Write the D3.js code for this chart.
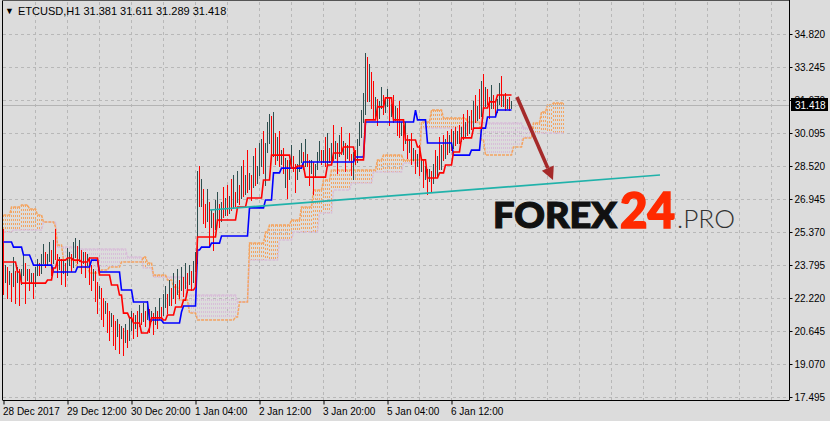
<!DOCTYPE html>
<html><head><meta charset="utf-8">
<script src="https://cdn.jsdelivr.net/npm/d3@7"></script>
<style>
html,body{margin:0;padding:0;background:#dcdcdc;}
svg{display:block;}
</style></head><body>
<svg id="c" width="830" height="421"></svg>
<script>
// ---------------- DATA ----------------
const symbolTitle = "ETCUSD,H1";
const lastQuote = [31.381, 31.611, 31.289, 31.418];
const yTickValues = [34.820, 33.245, 31.670, 30.095, 28.520, 26.945, 25.370, 23.795, 22.220, 20.645, 19.070, 17.495];
const xTickBars = [0, 32, 64, 96, 128, 160, 192, 224];
const xTickLabels = ["28 Dec 2017","29 Dec 12:00","30 Dec 20:00","1 Jan 04:00","2 Jan 12:00","3 Jan 20:00","5 Jan 04:00","6 Jan 12:00"];
const firstOpen = 24.9;
const closes = [
23.2,23.6,23.0,23.3,22.9,23.4,23.1,23.5,23.0,23.4,
23.8,23.2,23.5,23.1,23.3,22.9,23.4,23.8,23.5,24.0,
24.3,23.9,24.1,24.4,24.0,24.6,24.2,23.7,24.0,23.5,
23.8,23.4,23.9,24.2,23.8,24.3,24.6,24.1,24.4,24.0,
24.3,23.9,24.1,23.6,23.2,23.4,22.8,22.3,22.6,22.0,
21.6,21.9,21.3,21.0,21.3,20.8,20.5,20.9,20.4,20.7,
20.2,20.6,20.3,20.8,21.2,20.9,21.3,21.0,21.4,21.2,
21.5,21.3,21.6,21.2,21.4,21.1,21.5,21.3,21.7,21.5,
21.9,22.3,22.0,22.6,22.3,22.8,22.5,23.0,22.7,23.1,
22.8,23.3,23.0,23.4,23.1,23.6,23.9,27.4,26.8,27.2,
26.4,26.0,26.6,25.8,26.2,25.6,26.1,26.5,26.0,26.6,
26.3,26.8,26.4,26.9,26.6,27.2,26.9,27.5,27.1,27.7,
27.3,27.9,27.5,28.0,27.6,28.2,27.8,28.3,28.6,29.0,
28.5,29.4,29.8,30.3,29.2,29.9,29.0,29.5,28.8,29.1,
28.4,28.7,28.1,28.6,28.9,28.5,28.0,28.4,28.8,29.1,
28.6,29.0,28.7,28.3,28.6,28.1,28.5,28.9,29.2,28.8,
29.1,28.7,29.3,28.9,29.4,29.0,29.5,29.1,29.6,29.2,
29.5,29.0,29.4,29.0,28.6,29.1,28.8,29.6,30.0,30.7,
31.2,32.9,31.8,32.5,31.5,31.0,31.6,30.9,31.4,31.8,
31.2,31.5,31.7,31.1,31.3,30.8,31.2,30.6,30.1,30.4,
29.7,29.9,29.3,29.6,28.9,29.2,28.6,28.9,28.4,28.7,
28.0,28.3,27.9,28.2,27.8,28.4,28.1,28.8,28.5,29.3,
29.0,29.6,29.3,29.8,29.5,30.0,29.7,30.1,29.8,30.3,
30.0,30.5,30.2,30.8,30.5,31.1,30.8,31.3,31.0,31.8,
31.5,32.1,31.7,31.4,31.8,31.5,31.2,31.6,31.9,31.5,
31.8,31.4,31.6,31.381,31.418];
const highs = [
25.5,23.8,23.7,23.5,23.4,24.2,23.5,23.7,23.6,23.6,
24.3,23.9,23.6,23.6,23.4,23.4,23.7,24.1,23.9,24.3,
24.8,24.4,24.3,24.9,24.5,25.0,25.5,24.3,24.2,24.1,
24.0,23.9,24.6,24.4,24.3,24.9,25.1,24.7,25.0,24.5,
24.4,24.4,24.3,24.2,23.8,23.6,23.5,23.0,22.8,22.7,
22.2,22.1,22.0,21.6,21.5,21.4,21.1,21.2,21.0,20.9,
20.8,21.0,20.7,21.3,21.6,21.5,21.4,21.6,21.9,21.5,
22.0,21.6,22.1,21.7,21.6,21.5,21.8,21.6,22.2,21.8,
22.4,22.8,22.4,23.1,22.7,23.4,22.9,23.6,23.1,23.7,
23.2,23.9,23.4,23.8,23.5,24.0,24.4,28.3,28.5,27.9,
27.4,26.7,27.4,26.8,26.4,26.3,26.9,27.3,26.7,26.8,
27.5,27.0,27.6,27.1,27.9,28.1,27.3,28.3,27.6,28.5,
28.8,28.1,29.3,28.2,28.1,29.0,29.4,28.5,29.6,29.8,
30.2,29.6,30.6,31.0,30.9,31.1,30.1,29.9,30.2,29.3,
29.4,28.9,28.8,28.8,29.5,29.0,28.6,28.6,29.3,29.6,
29.2,29.8,29.1,28.8,28.8,28.7,28.6,29.2,29.7,29.3,
29.3,29.9,30.1,29.4,29.6,30.5,29.7,29.6,30.0,30.4,
29.7,29.6,29.5,30.1,29.1,29.2,29.3,29.8,30.6,31.2,
32.0,33.9,33.7,33.4,33.0,32.6,31.8,31.7,31.6,32.3,
31.9,31.7,32.2,31.8,31.5,31.9,31.4,31.3,31.6,30.6,
30.5,30.6,30.0,29.8,30.1,29.4,29.3,29.1,29.5,28.9,
28.8,28.5,28.4,28.4,28.3,28.6,29.3,29.0,29.9,29.5,
30.0,29.8,30.2,30.0,30.3,30.2,30.4,30.2,30.5,30.4,
31.0,30.6,31.2,30.9,31.2,31.6,31.9,31.4,32.2,32.6,
32.9,32.3,32.2,31.8,32.4,31.9,31.6,31.7,32.5,32.8,
31.9,32.0,31.7,31.8,31.611];
const lows = [
22.4,23.0,22.2,22.9,22.1,22.8,22.0,23.0,21.9,22.9,
23.3,22.0,23.1,22.6,23.0,22.2,22.8,23.3,23.3,23.4,
23.9,23.7,23.8,24.0,23.3,23.9,24.1,23.2,23.6,22.9,
23.4,22.8,23.3,23.8,23.5,23.7,24.2,23.9,24.0,23.4,
23.9,23.2,23.8,22.9,22.6,23.1,22.1,21.5,22.2,21.2,
20.9,21.5,20.6,20.2,20.9,20.0,19.8,20.4,19.6,20.3,
19.5,20.1,19.9,20.2,20.7,20.3,20.8,20.4,20.9,21.0,
21.1,20.9,21.2,20.6,21.1,20.5,21.0,20.8,21.2,21.3,
21.4,21.8,21.5,21.9,21.9,22.2,22.0,22.4,22.2,22.6,
22.3,22.7,22.5,22.9,22.6,23.0,23.5,23.9,26.6,26.6,
25.8,25.6,25.9,24.7,25.6,24.5,25.5,26.0,25.6,25.9,
26.1,26.2,26.2,26.3,26.4,26.5,26.6,26.8,26.7,27.0,
27.1,27.2,27.3,27.4,26.9,27.5,27.6,27.7,28.1,28.5,
28.2,27.6,29.2,29.6,28.9,29.0,28.6,28.8,28.5,28.6,
28.2,27.5,27.0,27.9,28.5,28.3,27.3,27.9,28.3,28.7,
28.4,28.5,28.5,27.6,28.2,27.2,28.0,28.4,28.8,28.6,
28.7,28.5,28.6,28.7,28.8,28.8,28.9,28.2,29.0,29.1,
29.1,28.3,28.9,28.8,28.1,27.9,28.6,28.7,29.5,29.9,
30.6,31.0,31.6,31.6,31.3,30.8,30.9,30.5,30.8,31.3,
31.0,31.1,31.4,30.5,30.9,30.6,30.7,30.0,29.9,30.0,
29.3,29.6,28.9,29.2,28.6,28.8,28.2,28.5,28.1,28.3,
27.5,27.9,27.2,27.8,27.3,27.7,28.0,28.0,28.4,28.4,
28.8,28.9,29.1,29.2,29.3,29.4,29.5,29.6,29.6,29.7,
29.8,29.9,30.0,30.1,30.3,30.4,30.6,30.7,30.8,30.9,
31.3,31.4,31.5,30.8,31.3,31.3,30.9,31.1,31.5,31.4,
31.4,31.2,31.3,31.2,31.289];
// Ichimoku lines, run-length: [barIndex, value] holds until next entry
const tenkan = [[0,23.94],[7,23.46],[9,22.93],[22,23.08],[25,23.65],[27,24.03],[32,24.13],[35,24.03],[39,23.94],[43,24.13],[48,23.32],[54,22.84],[58,22.36],[60,21.50],[63,21.27],[65,21.03],[69,20.55],[73,20.79],[74,21.27],[80,21.17],[82,21.41],[86,21.79],[90,22.12],[92,22.60],[96,22.74],[97,25.13],[107,25.94],[117,26.56],[122,26.99],[130,27.85],[134,29.04],[144,28.42],[147,28.52],[151,27.99],[162,28.57],[165,29.14],[170,29.43],[176,28.81],[181,30.72],[187,31.34],[191,31.77],[195,30.72],[201,29.76],[207,29.43],[209,28.81],[212,27.95],[218,28.19],[221,28.57],[225,29.19],[229,29.86],[235,30.33],[240,31.29],[243,31.58],[247,31.91]];
const kijun = [[0,24.89],[5,24.65],[10,24.27],[14,24.03],[15,23.79],[25,23.46],[37,23.70],[44,24.03],[48,23.46],[59,22.60],[65,22.03],[73,21.17],[80,21.03],[89,21.55],[90,21.84],[97,24.51],[99,24.65],[104,24.84],[109,25.18],[123,26.52],[131,26.90],[135,28.19],[139,28.42],[150,28.71],[176,28.95],[181,30.62],[206,31.19],[207,30.72],[212,29.62],[225,29.04],[234,29.28],[239,30.33],[242,30.86],[247,31.19]];
const spanA = [[0,26.18],[4,26.56],[9,26.66],[13,26.47],[17,26.18],[20,25.85],[26,25.61],[27,24.75],[30,24.03],[37,23.70],[43,23.41],[49,23.56],[53,23.70],[59,23.94],[70,24.18],[72,23.89],[75,23.32],[82,23.08],[85,22.74],[88,22.12],[93,21.50],[97,21.17],[116,21.31],[118,22.03],[123,24.84],[131,25.37],[133,25.70],[144,25.94],[149,26.56],[155,27.37],[160,27.85],[164,28.33],[187,28.81],[190,29.04],[200,28.81],[209,30.62],[214,31.19],[220,30.81],[232,30.62],[239,29.76],[241,29.04],[255,29.43],[260,29.86],[265,30.57],[269,31.10],[272,31.43],[275,31.53]];
const spanB = [[0,25.37],[5,25.47],[20,25.85],[27,24.65],[38,24.56],[62,24.18],[70,23.65],[75,23.22],[92,22.36],[117,22.03],[123,24.03],[138,24.99],[145,25.37],[158,26.28],[165,27.37],[174,27.71],[185,28.23],[200,28.66],[209,30.33],[232,30.57],[260,30.33],[265,30.09]];
const cloudEnd = 280;
const trendLine = [[103.5, 26.42], [328.5, 28.09]];
const arrowLine = [[257, 31.81], [275, 27.85]];

// ---------------- DRAW ----------------
const svg = d3.select("#c");
const plotL = 3, plotR = 789, plotB = 400;
const x = d3.scaleLinear().domain([0, 393]).range([3, 789]);
const y = d3.scaleLinear().domain([17.495, 34.820]).range([397, 34]);
const FONT = "'Liberation Sans', Arial, sans-serif";

svg.append("rect").attr("width", 830).attr("height", 421).attr("fill", "#dcdcdc");

// grid
const grid = svg.append("g").attr("stroke", "#b8b8b8").attr("stroke-dasharray", "3,3").attr("shape-rendering", "crispEdges");
yTickValues.forEach(v => {
  grid.append("line").attr("x1", plotL).attr("x2", plotR).attr("y1", Math.round(y(v)) + 0.5).attr("y2", Math.round(y(v)) + 0.5);
});
d3.range(16, 393, 16).forEach(i => {
  grid.append("line").attr("x1", Math.round(x(i)) + 0.5).attr("x2", Math.round(x(i)) + 0.5).attr("y1", 2).attr("y2", plotB);
});

function expand(runs, n) {
  const out = [];
  let k = 0;
  for (let i = 0; i < n; i++) {
    while (k + 1 < runs.length && runs[k + 1][0] <= i) k++;
    out.push(runs[k][1]);
  }
  return out;
}
const nBars = highs.length;
const A = expand(spanA, cloudEnd + 1);
const B = expand(spanB, cloudEnd + 1);
const T = expand(tenkan, nBars);
const K = expand(kijun, nBars);

// cloud hatch
const cloud = svg.append("g").attr("stroke-width", 1).attr("stroke-dasharray", "2,2").attr("shape-rendering", "crispEdges");
for (let i = 0; i <= cloudEnd; i++) {
  const ya = y(A[i]), yb = y(B[i]);
  cloud.append("line")
    .attr("x1", Math.round(x(i)) + 0.5).attr("x2", Math.round(x(i)) + 0.5)
    .attr("y1", Math.round(Math.min(ya, yb))).attr("y2", Math.round(Math.max(ya, yb)))
    .attr("stroke", A[i] >= B[i] ? "#f4a460" : "#d8bfd8");
}
const lineGen = d3.line().x((d, i) => x(i) + 0.5).y(d => y(d));
svg.append("path").datum(B).attr("d", lineGen).attr("fill", "none").attr("stroke", "#d8bfd8").attr("stroke-width", 1.5).attr("stroke-dasharray", "3,1");
svg.append("path").datum(A).attr("d", lineGen).attr("fill", "none").attr("stroke", "#f4a460").attr("stroke-width", 1.5).attr("stroke-dasharray", "3,1");

// bid line
svg.append("line").attr("x1", plotL).attr("x2", plotR)
  .attr("y1", Math.round(y(lastQuote[3])) + 0.5).attr("y2", Math.round(y(lastQuote[3])) + 0.5)
  .attr("stroke", "#b4b4b4").attr("shape-rendering", "crispEdges");

// bars
const bars = svg.append("g").attr("shape-rendering", "crispEdges");
for (let i = 0; i < nBars; i++) {
  const o = i === 0 ? firstOpen : closes[i - 1];
  bars.append("line")
    .attr("x1", Math.round(x(i)) + 0.5).attr("x2", Math.round(x(i)) + 0.5)
    .attr("y1", Math.round(y(highs[i]))).attr("y2", Math.round(y(lows[i])) + 1)
    .attr("stroke", closes[i] >= o ? "#2f4f4f" : "#ff0000");
}

// tenkan / kijun
svg.append("path").datum(K).attr("d", lineGen).attr("fill", "none").attr("stroke", "#0000ff").attr("stroke-width", 1.6);
svg.append("path").datum(T).attr("d", lineGen).attr("fill", "none").attr("stroke", "#ff0000").attr("stroke-width", 1.6);

// trend line
svg.append("line")
  .attr("x1", x(trendLine[0][0])).attr("y1", y(trendLine[0][1]))
  .attr("x2", x(trendLine[1][0])).attr("y2", y(trendLine[1][1]))
  .attr("stroke", "#20b2aa").attr("stroke-width", 1.6);

// arrow
const ax1 = x(arrowLine[0][0]), ay1 = y(arrowLine[0][1]);
const ax2 = x(arrowLine[1][0]), ay2 = y(arrowLine[1][1]);
const ang = Math.atan2(ay2 - ay1, ax2 - ax1);
const headLen = 13, headW = 6.5;
const bx = ax2 - headLen * Math.cos(ang), by = ay2 - headLen * Math.sin(ang);
svg.append("line").attr("x1", ax1).attr("y1", ay1).attr("x2", bx).attr("y2", by)
  .attr("stroke", "#a52a2a").attr("stroke-width", 3.6);
svg.append("path")
  .attr("d", `M${ax2},${ay2}L${bx + headW * Math.sin(ang)},${by - headW * Math.cos(ang)}L${bx - headW * Math.sin(ang)},${by + headW * Math.cos(ang)}Z`)
  .attr("fill", "#a52a2a");

// watermark
const wm = svg.append("g");
wm.append("text").attr("x", 493).attr("y", 228).text("FOREX")
  .attr("font-family", "Lato, sans-serif").attr("font-weight", 900).attr("font-size", 36)
  .attr("fill", "#111").attr("stroke", "#111").attr("stroke-width", 1.2)
  .attr("textLength", 124).attr("lengthAdjust", "spacingAndGlyphs");
wm.append("text").attr("x", 620).attr("y", 228).text("24")
  .attr("font-family", "Lato, sans-serif").attr("font-weight", 900).attr("font-size", 49)
  .attr("fill", "#ff2a00").attr("stroke", "#ff2a00").attr("stroke-width", 1.6)
  .attr("textLength", 55).attr("lengthAdjust", "spacingAndGlyphs");
wm.append("text").attr("x", 677).attr("y", 228).text(".PRO")
  .attr("font-family", "Lato, sans-serif").attr("font-weight", 300).attr("font-size", 25)
  .attr("fill", "#333").attr("textLength", 58).attr("lengthAdjust", "spacingAndGlyphs");

// frame
svg.append("line").attr("x1", 2.5).attr("x2", 2.5).attr("y1", 0).attr("y2", plotB).attr("stroke", "#000");
svg.append("line").attr("x1", 2).attr("x2", plotR).attr("y1", 0.5).attr("y2", 0.5).attr("stroke", "#555");

// axes
const xAxis = d3.axisBottom(x).tickValues(xTickBars).tickFormat((d, k) => xTickLabels[k]).tickSize(4).tickSizeOuter(0);
const gx = svg.append("g").attr("transform", `translate(0.5,${plotB + 0.5})`).call(xAxis);
gx.select(".domain").attr("d", `M${2},0H${plotR}`).attr("stroke", "#000");
gx.selectAll(".tick line").attr("stroke", "#000");
gx.selectAll(".tick text").attr("text-anchor", "start").attr("dx", -1).attr("y", 7)
  .attr("font-family", FONT).attr("font-size", 10).attr("fill", "#000");

const yAxis = d3.axisRight(y).tickValues(yTickValues).tickFormat(d3.format(".3f")).tickSize(3).tickSizeOuter(0);
const gy = svg.append("g").attr("transform", `translate(${plotR + 0.5},0)`).call(yAxis);
gy.select(".domain").attr("d", `M0,0V${plotB}`).attr("stroke", "#000");
gy.selectAll(".tick line").attr("stroke", "#000");
gy.selectAll(".tick text").attr("x", 5).attr("font-family", FONT).attr("font-size", 10).attr("fill", "#000");

// price label
const py = y(lastQuote[3]);
svg.append("rect").attr("x", 791).attr("y", Math.round(py) - 7).attr("width", 37).attr("height", 13).attr("fill", "#000");
svg.append("text").attr("x", 795).attr("y", Math.round(py) + 3.5).text(d3.format(".3f")(lastQuote[3]))
  .attr("font-family", FONT).attr("font-size", 10).attr("fill", "#fff");

// header
svg.append("text").attr("x", 5).attr("y", 14).text("\u25BC").attr("font-family", FONT).attr("font-size", 9).attr("fill", "#000");
svg.append("text").attr("x", 18).attr("y", 15)
  .text(symbolTitle + "  " + lastQuote.map(d3.format(".3f")).join(" "))
  .attr("font-family", FONT).attr("font-size", 11).attr("fill", "#000");
</script>
</body></html>
